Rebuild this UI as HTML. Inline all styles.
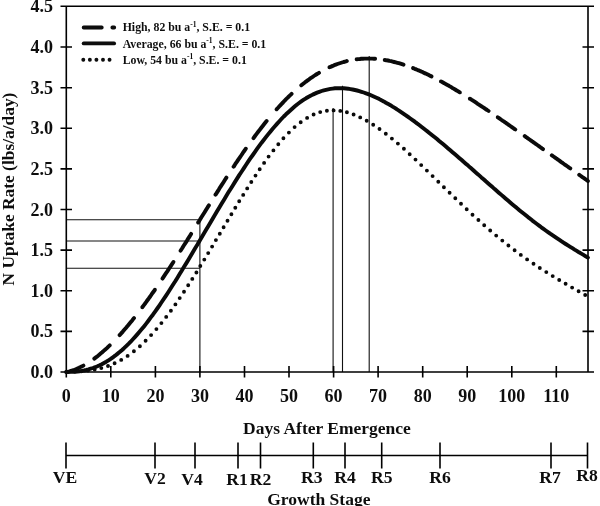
<!DOCTYPE html>
<html><head><meta charset="utf-8"><title>N Uptake Rate</title>
<style>
html,body{margin:0;padding:0;background:#fff;}
body{width:600px;height:506px;overflow:hidden;font-family:"Liberation Serif",serif;}
svg{display:block;will-change:transform;}
text{font-family:"Liberation Serif",serif;font-weight:bold;fill:#111;}
.ax{stroke:#000;stroke-width:1.6;fill:none;}
.ref{stroke:#111;stroke-width:1.1;fill:none;}
.cv{stroke:#0a0a0a;stroke-width:3.9;fill:none;stroke-linejoin:round;}
.yt{font-size:18px;text-anchor:end;}
.xt{font-size:18px;text-anchor:middle;}
.gs{font-size:17.6px;text-anchor:middle;}
.lg{font-size:11.8px;}
</style></head><body>
<svg width="600" height="506" viewBox="0 0 600 506">
<defs><filter id="soft" x="-5%" y="-5%" width="110%" height="110%"><feGaussianBlur stdDeviation="0.3"/></filter></defs>
<rect width="600" height="506" fill="#fff"/>
<path class="ref" d="M66.3,219.7 H199.9"/>
<path class="ref" d="M66.3,241.0 H199.9"/>
<path class="ref" d="M66.3,268.2 H199.9"/>
<path class="ref" d="M199.9,219.7 V372.0"/>
<path class="ref" d="M333.1,107.9 V372.0"/>
<path class="ref" d="M342.5,85.7 V372.0"/>
<path class="ref" d="M369.2,55.9 V372.0"/>
<path class="ax" d="M60.5,6.3 H594 M60.5,372 H594 M66.3,6.3 V377.5 M588,6.3 V372"/>
<path class="ax" d="M60.5,331.4 H72 M582.5,331.4 H594 M60.5,290.8 H72 M582.5,290.8 H594 M60.5,250.1 H72 M582.5,250.1 H594 M60.5,209.5 H72 M582.5,209.5 H594 M60.5,168.9 H72 M582.5,168.9 H594 M60.5,128.3 H72 M582.5,128.3 H594 M60.5,87.7 H72 M582.5,87.7 H594 M60.5,47.0 H72 M582.5,47.0 H594 M110.8,366 V377.5 M155.4,366 V377.5 M199.9,366 V377.5 M244.5,366 V377.5 M289.0,366 V377.5 M333.6,366 V377.5 M378.1,366 V377.5 M422.7,366 V377.5 M467.2,366 V377.5 M511.8,366 V377.5 M556.3,366 V377.5"/>
<path class="cv" d="M66.3,372.0 L66.4,372.0 L68.0,371.7 L69.6,371.3 L71.1,370.8 L72.7,370.3 L74.3,369.8 L75.8,369.2 L77.4,368.5 L79.0,367.8 L80.5,367.1 L82.1,366.3 L83.4,365.6 M94.3,358.6 L94.3,358.6 L95.9,357.4 L97.5,356.2 L99.0,354.9 L100.6,353.6 L102.2,352.3 L103.7,350.9 L105.3,349.5 L106.9,348.1 L108.4,346.6 L109.7,345.4 M119.6,335.1 L119.6,335.1 L121.2,333.4 L122.8,331.6 L124.3,329.8 L125.9,328.0 L127.5,326.1 L129.0,324.2 L130.6,322.3 L132.2,320.4 L133.7,318.4 L134.0,318.1 M142.3,307.3 L142.3,307.2 L143.9,305.1 L145.5,303.0 L147.0,300.8 L148.6,298.7 L150.2,296.5 L151.7,294.2 L153.3,292.0 L154.9,289.8 L154.9,289.7 M162.5,278.6 L162.6,278.4 L164.1,276.1 L165.7,273.7 L167.3,271.4 L168.8,269.0 L170.4,266.6 L172.0,264.2 L173.4,262.0 M180.6,250.7 L180.7,250.5 L182.3,248.0 L183.8,245.5 L185.4,243.1 L187.0,240.6 L188.5,238.1 L190.1,235.6 L191.1,233.9 M198.2,222.5 L198.3,222.4 L199.9,219.8 L201.4,217.3 L203.0,214.8 L204.6,212.3 L206.1,209.8 L207.7,207.2 L208.9,205.4 M215.5,194.7 L215.7,194.5 L217.2,192.1 L218.8,189.6 L220.3,187.1 L221.9,184.7 L223.5,182.2 L225.0,179.8 L226.4,177.6 M233.6,166.7 L233.7,166.6 L235.2,164.2 L236.8,161.9 L238.3,159.6 L239.9,157.3 L241.5,155.0 L243.0,152.7 L244.6,150.5 L245.8,148.7 M253.5,138.1 L253.5,138.1 L255.0,136.0 L256.6,133.9 L258.2,131.8 L259.7,129.8 L261.3,127.7 L262.9,125.7 L264.4,123.8 L266.0,121.8 L266.6,121.1 M276.6,109.3 L276.7,109.2 L278.3,107.5 L279.8,105.8 L281.4,104.1 L283.0,102.5 L284.5,100.8 L286.1,99.2 L287.7,97.7 L289.2,96.1 L290.8,94.6 L291.6,93.8 M301.3,85.3 L301.3,85.3 L302.9,84.0 L304.5,82.8 L306.0,81.6 L307.6,80.4 L309.2,79.3 L310.7,78.1 L312.3,77.1 L313.9,76.0 L315.4,75.0 L317.0,74.0 L318.6,73.1 L319.0,72.8 M329.4,67.3 L329.5,67.3 L331.1,66.6 L332.7,65.9 L334.2,65.2 L335.8,64.6 L337.4,64.0 L338.9,63.5 L340.5,63.0 L342.0,62.5 L343.6,62.0 L345.2,61.6 L346.7,61.2 L346.8,61.1 M356.6,59.3 L356.7,59.3 L358.2,59.1 L359.8,59.0 L361.4,58.8 L362.9,58.7 L364.5,58.6 L366.0,58.6 L367.6,58.6 L369.2,58.6 L370.7,58.6 L372.3,58.6 L373.9,58.7 L375.1,58.8 M384.7,60.0 L384.8,60.0 L386.4,60.3 L388.0,60.5 L389.5,60.9 L391.1,61.2 L392.7,61.6 L394.2,62.0 L395.8,62.4 L397.4,62.8 L398.9,63.2 L400.5,63.7 L402.0,64.2 L403.5,64.7 M413.1,68.1 L413.1,68.1 L414.7,68.8 L416.3,69.4 L417.8,70.1 L419.4,70.7 L421.0,71.4 L422.5,72.1 L424.1,72.9 L425.7,73.6 L427.2,74.3 L428.8,75.1 L430.4,75.9 L431.5,76.4 M440.9,81.4 L441.0,81.4 L442.6,82.3 L444.2,83.2 L445.7,84.1 L447.3,84.9 L448.9,85.8 L450.4,86.7 L452.0,87.7 L453.6,88.6 L455.1,89.5 L456.7,90.5 L458.3,91.4 L459.8,92.4 L459.9,92.4 M469.8,98.7 L469.9,98.7 L471.4,99.7 L473.0,100.7 L474.6,101.7 L476.1,102.7 L477.7,103.8 L479.3,104.8 L480.8,105.8 L482.4,106.9 L484.0,107.9 L485.5,109.0 L487.1,110.0 L488.6,111.0 M497.7,117.3 L497.8,117.3 L499.4,118.4 L500.9,119.5 L502.5,120.6 L504.1,121.6 L505.6,122.7 L507.2,123.8 L508.7,124.9 L510.3,126.0 L511.9,127.1 L513.4,128.2 L515.0,129.3 L515.3,129.5 M524.7,136.1 L524.8,136.2 L526.4,137.3 L527.9,138.4 L529.5,139.5 L531.1,140.6 L532.6,141.7 L534.2,142.8 L535.7,143.9 L537.3,145.0 L538.9,146.1 L540.4,147.2 L542.0,148.4 L543.0,149.1 M551.8,155.3 L551.9,155.4 L553.5,156.5 L555.1,157.6 L556.6,158.7 L558.2,159.8 L559.7,160.9 L561.3,162.1 L562.9,163.2 L564.4,164.3 L566.0,165.4 L567.6,166.5 L569.1,167.6 L570.3,168.4 M579.2,174.8 L579.3,174.9 L580.9,176.0 L582.4,177.1 L584.0,178.2 L585.6,179.3 L587.1,180.4 L587.9,181.0" stroke-linecap="round"/>
<path class="cv" d="M66.3,371.9 L68.5,371.9 L70.7,371.9 L73.0,371.9 L75.2,371.7 L77.4,371.5 L79.6,371.2 L81.8,370.9 L84.1,370.5 L86.3,370.0 L88.5,369.4 L90.7,368.7 L92.9,368.0 L95.2,367.2 L97.4,366.3 L99.6,365.3 L101.8,364.2 L104.0,363.0 L106.3,361.7 L108.5,360.3 L110.7,358.9 L112.9,357.3 L115.1,355.7 L117.4,353.9 L119.6,352.1 L121.8,350.2 L124.0,348.2 L126.2,346.1 L128.5,343.9 L130.7,341.7 L132.9,339.3 L135.1,336.9 L137.3,334.4 L139.5,331.8 L141.8,329.1 L144.0,326.4 L146.2,323.6 L148.4,320.7 L150.6,317.7 L152.9,314.7 L155.1,311.6 L157.3,308.5 L159.5,305.3 L161.7,302.0 L164.0,298.7 L166.2,295.4 L168.4,292.0 L170.6,288.5 L172.8,285.0 L175.1,281.5 L177.3,277.9 L179.5,274.3 L181.7,270.7 L183.9,267.1 L186.2,263.4 L188.4,259.7 L190.6,256.0 L192.8,252.3 L195.0,248.5 L197.3,244.8 L199.5,241.0 L201.7,237.2 L203.9,233.5 L206.1,229.7 L208.4,225.9 L210.6,222.2 L212.8,218.4 L215.0,214.7 L217.2,211.0 L219.5,207.2 L221.7,203.5 L223.9,199.9 L226.1,196.2 L228.3,192.6 L230.6,189.0 L232.8,185.4 L235.0,181.9 L237.2,178.4 L239.4,174.9 L241.7,171.5 L243.9,168.1 L246.1,164.7 L248.3,161.4 L250.5,158.2 L252.8,155.0 L255.0,151.8 L257.2,148.7 L259.4,145.7 L261.6,142.7 L263.9,139.8 L266.1,136.9 L268.3,134.1 L270.5,131.4 L272.7,128.7 L274.9,126.2 L277.2,123.6 L279.4,121.2 L281.6,118.8 L283.8,116.5 L286.0,114.3 L288.3,112.2 L290.5,110.2 L292.7,108.2 L294.9,106.3 L297.1,104.5 L299.4,102.8 L301.6,101.2 L303.8,99.7 L306.0,98.3 L308.2,97.0 L310.5,95.8 L312.7,94.6 L314.9,93.6 L317.1,92.6 L319.3,91.8 L321.6,91.0 L323.8,90.3 L326.0,89.8 L328.2,89.3 L330.4,88.9 L332.7,88.6 L334.9,88.3 L337.1,88.2 L339.3,88.2 L341.5,88.2 L343.8,88.3 L346.0,88.5 L348.2,88.7 L350.4,89.1 L352.6,89.5 L354.9,90.0 L357.1,90.5 L359.3,91.1 L361.5,91.8 L363.7,92.5 L366.0,93.3 L368.2,94.1 L370.4,95.0 L372.6,96.0 L374.8,97.0 L377.1,98.0 L379.3,99.1 L381.5,100.3 L383.7,101.4 L385.9,102.7 L388.2,103.9 L390.4,105.2 L392.6,106.6 L394.8,107.9 L397.0,109.4 L399.3,110.8 L401.5,112.3 L403.7,113.8 L405.9,115.3 L408.1,116.9 L410.3,118.5 L412.6,120.1 L414.8,121.7 L417.0,123.4 L419.2,125.0 L421.4,126.7 L423.7,128.5 L425.9,130.2 L428.1,131.9 L430.3,133.7 L432.5,135.5 L434.8,137.3 L437.0,139.1 L439.2,141.0 L441.4,142.8 L443.6,144.6 L445.9,146.5 L448.1,148.4 L450.3,150.3 L452.5,152.2 L454.7,154.1 L457.0,156.0 L459.2,157.9 L461.4,159.8 L463.6,161.8 L465.8,163.7 L468.1,165.6 L470.3,167.6 L472.5,169.5 L474.7,171.5 L476.9,173.4 L479.2,175.4 L481.4,177.4 L483.6,179.3 L485.8,181.3 L488.0,183.2 L490.3,185.2 L492.5,187.1 L494.7,189.1 L496.9,191.0 L499.1,192.9 L501.4,194.9 L503.6,196.8 L505.8,198.7 L508.0,200.6 L510.2,202.5 L512.5,204.4 L514.7,206.2 L516.9,208.1 L519.1,209.9 L521.3,211.7 L523.6,213.5 L525.8,215.3 L528.0,217.1 L530.2,218.8 L532.4,220.6 L534.6,222.3 L536.9,224.0 L539.1,225.6 L541.3,227.3 L543.5,228.9 L545.7,230.5 L548.0,232.1 L550.2,233.7 L552.4,235.2 L554.6,236.7 L556.8,238.2 L559.1,239.7 L561.3,241.2 L563.5,242.6 L565.7,244.0 L567.9,245.4 L570.2,246.8 L572.4,248.2 L574.6,249.6 L576.8,250.9 L579.0,252.3 L581.3,253.6 L583.5,254.9 L585.7,256.3 L587.9,257.6" stroke-linecap="round"/>
<path class="cv" stroke-width="4" d="M68.0,372.0h0.01 M74.7,371.6h0.01 M81.3,371.2h0.01 M88.0,370.6h0.01 M94.7,369.6h0.01 M101.3,368.1h0.01 M108.0,366.0h0.01 M114.6,363.3h0.01 M121.2,359.9h0.01 M127.6,355.9h0.01 M133.9,351.3h0.01 M139.9,346.2h0.01 M145.6,340.8h0.01 M151.1,335.1h0.01 M156.4,329.1h0.01 M161.4,323.1h0.01 M166.2,316.9h0.01 M170.9,310.7h0.01 M175.4,304.4h0.01 M179.7,298.1h0.01 M184.0,291.7h0.01 M188.2,285.3h0.01 M192.3,278.9h0.01 M196.4,272.5h0.01 M200.3,266.0h0.01 M204.3,259.6h0.01 M208.2,253.1h0.01 M212.1,246.6h0.01 M215.9,240.1h0.01 M219.8,233.7h0.01 M223.6,227.2h0.01 M227.5,220.7h0.01 M231.4,214.2h0.01 M235.3,207.8h0.01 M239.2,201.3h0.01 M243.2,194.9h0.01 M247.2,188.4h0.01 M251.3,182.0h0.01 M255.5,175.6h0.01 M259.7,169.2h0.01 M264.1,162.9h0.01 M268.6,156.6h0.01 M273.4,150.4h0.01 M278.3,144.3h0.01 M283.4,138.3h0.01 M288.9,132.6h0.01 M294.6,127.1h0.01 M300.7,122.2h0.01 M307.1,117.9h0.01 M313.6,114.5h0.01 M320.2,112.1h0.01 M326.9,110.7h0.01 M333.6,110.4h0.01 M340.3,110.9h0.01 M346.9,112.3h0.01 M353.6,114.5h0.01 M360.2,117.4h0.01 M366.7,120.8h0.01 M373.2,124.7h0.01 M379.5,129.0h0.01 M385.8,133.7h0.01 M391.9,138.6h0.01 M397.9,143.6h0.01 M403.9,148.8h0.01 M409.7,154.2h0.01 M415.5,159.6h0.01 M421.2,165.1h0.01 M426.9,170.6h0.01 M432.6,176.1h0.01 M438.3,181.7h0.01 M443.9,187.2h0.01 M449.6,192.8h0.01 M455.3,198.3h0.01 M461.0,203.8h0.01 M466.7,209.3h0.01 M472.5,214.7h0.01 M478.4,220.0h0.01 M484.2,225.3h0.01 M490.2,230.5h0.01 M496.2,235.6h0.01 M502.3,240.6h0.01 M508.4,245.5h0.01 M514.6,250.2h0.01 M520.8,254.9h0.01 M527.1,259.4h0.01 M533.5,263.7h0.01 M539.8,268.0h0.01 M546.3,272.1h0.01 M552.7,276.1h0.01 M559.2,280.0h0.01 M565.6,283.8h0.01 M572.1,287.6h0.01 M578.6,291.3h0.01 M585.2,295.0h0.01" stroke-linecap="round"/>
<g filter="url(#soft)">
<text class="yt" x="53" y="378.0">0.0</text>
<text class="yt" x="53" y="337.4">0.5</text>
<text class="yt" x="53" y="296.8">1.0</text>
<text class="yt" x="53" y="256.1">1.5</text>
<text class="yt" x="53" y="215.5">2.0</text>
<text class="yt" x="53" y="174.9">2.5</text>
<text class="yt" x="53" y="134.3">3.0</text>
<text class="yt" x="53" y="93.7">3.5</text>
<text class="yt" x="53" y="53.0">4.0</text>
<text class="yt" x="53" y="12.4">4.5</text>
<text class="xt" x="66.3" y="402">0</text>
<text class="xt" x="110.8" y="402">10</text>
<text class="xt" x="155.4" y="402">20</text>
<text class="xt" x="199.9" y="402">30</text>
<text class="xt" x="244.5" y="402">40</text>
<text class="xt" x="289.0" y="402">50</text>
<text class="xt" x="333.6" y="402">60</text>
<text class="xt" x="378.1" y="402">70</text>
<text class="xt" x="422.7" y="402">80</text>
<text class="xt" x="467.2" y="402">90</text>
<text class="xt" x="511.8" y="402">100</text>
<text class="xt" x="556.3" y="402">110</text>
<text transform="translate(13.5,189) rotate(-90)" text-anchor="middle" font-size="17.4">N Uptake Rate (lbs/a/day)</text>
<text x="327" y="434.3" text-anchor="middle" font-size="17.5">Days After Emergence</text>
<text x="318.8" y="505" text-anchor="middle" font-size="17.5">Growth Stage</text>
</g>
<path class="ax" d="M66,455.5 H588 M66.0,442.5 V468.5 M155.0,442.5 V468.5 M195.0,442.5 V468.5 M238.0,442.5 V468.5 M260.5,442.5 V468.5 M313.3,442.5 V468.5 M345.0,442.5 V468.5 M381.7,442.5 V468.5 M440.0,442.5 V468.5 M551.0,442.5 V468.5 M587.5,442.5 V468.5"/>
<g filter="url(#soft)">
<text class="gs" x="65.0" y="483.0">VE</text>
<text class="gs" x="155.0" y="484.0">V2</text>
<text class="gs" x="192.0" y="485.0">V4</text>
<text class="gs" x="237.0" y="484.5">R1</text>
<text class="gs" x="260.5" y="484.5">R2</text>
<text class="gs" x="311.7" y="483.0">R3</text>
<text class="gs" x="345.0" y="483.0">R4</text>
<text class="gs" x="381.7" y="483.0">R5</text>
<text class="gs" x="440.0" y="483.0">R6</text>
<text class="gs" x="550.0" y="483.0">R7</text>
<text class="gs" x="587.0" y="481.0">R8</text>
<path class="cv" d="M83.7,27.5 H101.7 M112.4,27.5 H114.2" stroke-linecap="round" stroke-width="3.3"/>
<path class="cv" d="M83.7,43.4 H114.1" stroke-linecap="round" stroke-width="3.4"/>
<path class="cv" d="M83.3,59.7 H110" stroke-dasharray="0.01 6.55" stroke-linecap="round" stroke-width="3.1"/>
<text class="lg" x="122.7" y="31.3">High, 82 bu a<tspan font-size="7.5" dy="-4.3">-1</tspan><tspan dy="4.3">, S.E. = 0.1</tspan></text>
<text class="lg" x="122.7" y="47.7">Average, 66 bu a<tspan font-size="7.5" dy="-4.3">-1</tspan><tspan dy="4.3">, S.E. = 0.1</tspan></text>
<text class="lg" x="122.7" y="63.7">Low, 54 bu a<tspan font-size="7.5" dy="-4.3">-1</tspan><tspan dy="4.3">, S.E. = 0.1</tspan></text>
</g>
</svg></body></html>
